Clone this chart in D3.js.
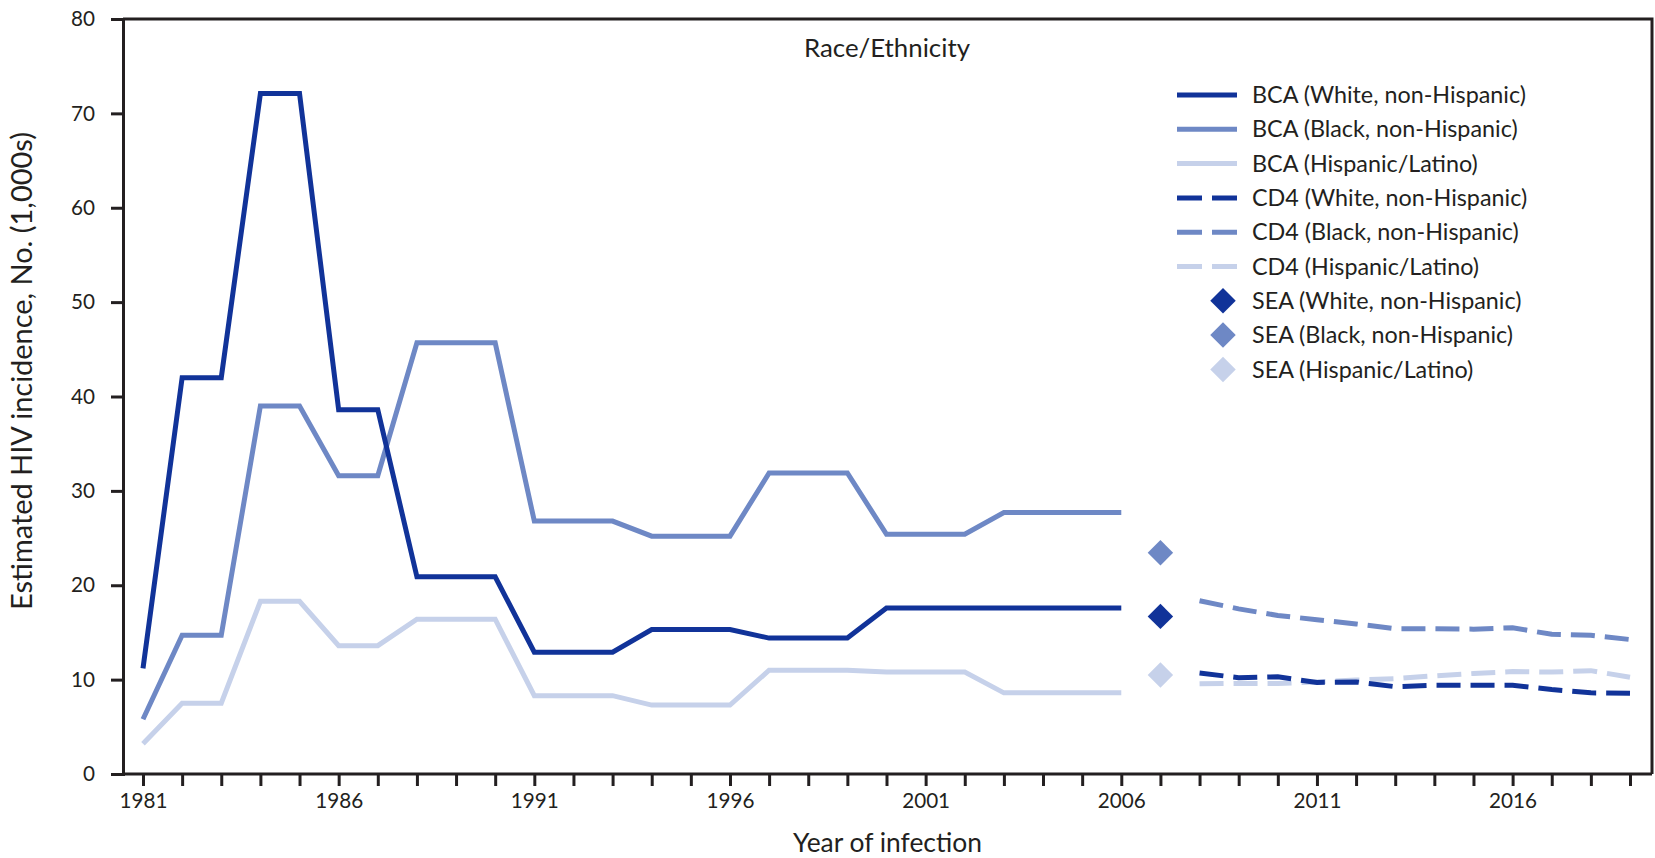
<!DOCTYPE html>
<html>
<head>
<meta charset="utf-8">
<script src="https://cdn.jsdelivr.net/npm/d3@7"></script>
<style>
  html, body { margin: 0; padding: 0; background: #fff; }
  svg text { font-family: Lato, "Open Sans", sans-serif; fill: #231f20; }
</style>
</head>
<body>
<div id="chart"></div>
<script>
// years
const bcaYears = d3.range(1981, 2007);
const cd4Years = d3.range(2008, 2020);
const seaYear = 2007;

// BCA estimates (1,000s)
const bcaWhite = [11.2, 42.0, 42.0, 72.1, 72.1, 38.6, 38.6, 20.9, 20.9, 20.9, 12.9, 12.9, 12.9,
  15.3, 15.3, 15.3, 14.4, 14.4, 14.4, 17.6, 17.6, 17.6, 17.6, 17.6, 17.6, 17.6];
const bcaBlack = [5.8, 14.7, 14.7, 39.0, 39.0, 31.6, 31.6, 45.7, 45.7, 45.7, 26.8, 26.8, 26.8,
  25.2, 25.2, 25.2, 31.9, 31.9, 31.9, 25.4, 25.4, 25.4, 27.7, 27.7, 27.7, 27.7];
const bcaHisp = [3.2, 7.5, 7.5, 18.3, 18.3, 13.6, 13.6, 16.4, 16.4, 16.4, 8.3, 8.3, 8.3,
  7.3, 7.3, 7.3, 11.0, 11.0, 11.0, 10.8, 10.8, 10.8, 8.6, 8.6, 8.6, 8.6];

// CD4 estimates (1,000s)
const cd4White = [10.7, 10.2, 10.3, 9.7, 9.75, 9.25, 9.4, 9.4, 9.4, 8.95, 8.6, 8.55];
const cd4Black = [18.35, 17.5, 16.8, 16.35, 15.9, 15.4, 15.4, 15.35, 15.5, 14.8, 14.7, 14.25];
const cd4Hisp = [9.55, 9.6, 9.6, 9.75, 9.95, 10.1, 10.4, 10.65, 10.85, 10.8, 10.95, 10.25];

// SEA estimates (1,000s), 2007
const seaValues = [16.7, 23.45, 10.5];

const groups = ["White, non-Hispanic", "Black, non-Hispanic", "Hispanic/Latino"];
const colors = ["#113399", "#6e88c5", "#c6d1ea"];
const yTicks = [0, 10, 20, 30, 40, 50, 60, 70, 80];
const xLabelYears = [1981, 1986, 1991, 1996, 2001, 2006, 2011, 2016];

const width = 1655, height = 858;
const frame = { left: 123, right: 1652, top: 19, bottom: 774 };

// scale a text's font so it spans the width seen in the reference
function fitWidth(sel, target) {
  const w = sel.node().getComputedTextLength();
  const fs = +sel.attr("font-size");
  const size = fs * target / w;
  sel.attr("font-size", size);
  return size;
}

const svg = d3.select("#chart").append("svg")
  .attr("width", width)
  .attr("height", height);

const x = d3.scaleLinear().domain([1981, 2019]).range([143, 1630]);
const y = d3.scaleLinear().domain([0, 80]).range([frame.bottom, frame.top]);

// frame (top and right)
svg.append("path")
  .attr("d", `M${frame.left},${frame.top}H${frame.right}V${frame.bottom}`)
  .attr("fill", "none")
  .attr("stroke", "#231f20")
  .attr("stroke-width", 3);

// x axis
const xAxis = svg.append("g")
  .attr("transform", `translate(0,${frame.bottom})`)
  .call(d3.axisBottom(x).tickValues(d3.range(1981, 2020)).tickSize(12).tickPadding(7)
    .tickFormat(d => xLabelYears.includes(d) ? d : ""));
xAxis.select(".domain").remove();
xAxis.append("line")
  .attr("x1", frame.left).attr("x2", frame.right)
  .attr("stroke", "#231f20").attr("stroke-width", 3);
xAxis.selectAll(".tick line").attr("stroke", "#231f20").attr("stroke-width", 3);
const xText = xAxis.selectAll(".tick text").attr("font-size", 21).attr("fill", "#231f20");
const tickSize = fitWidth(xText.filter(d => d === 1981), 48);
xText.attr("font-size", tickSize);

// y axis
const yAxis = svg.append("g")
  .attr("transform", `translate(${frame.left},0)`)
  .call(d3.axisLeft(y).tickValues(yTicks).tickSize(12).tickPadding(16));
yAxis.select(".domain").attr("stroke", "#231f20").attr("stroke-width", 3);
yAxis.selectAll(".tick line").attr("stroke", "#231f20").attr("stroke-width", 3);
yAxis.selectAll("text").attr("font-size", tickSize).attr("fill", "#231f20");

// titles
const xTitle = svg.append("text")
  .attr("x", (frame.left + frame.right) / 2)
  .attr("y", 852)
  .attr("text-anchor", "middle")
  .attr("font-size", 23)
  .text("Year of infection");
fitWidth(xTitle, 189);

const yTitle = svg.append("text")
  .attr("transform", "translate(32,371) rotate(-90)")
  .attr("text-anchor", "middle")
  .attr("font-size", 22)
  .text("Estimated HIV incidence, No. (1,000s)");
fitWidth(yTitle, 478);

const groupTitle = svg.append("text")
  .attr("x", 887)
  .attr("y", 57)
  .attr("text-anchor", "middle")
  .attr("font-size", 22)
  .text("Race/Ethnicity");
fitWidth(groupTitle, 166);

// lines
const line = d3.line().x(d => x(d[0])).y(d => y(d[1]));
const bca = [bcaWhite, bcaBlack, bcaHisp];
const cd4 = [cd4White, cd4Black, cd4Hisp];

// draw lighter first so darker sits on top
[2, 1, 0].forEach(i => {
  svg.append("path")
    .datum(bcaYears.map((yr, j) => [yr, bca[i][j]]))
    .attr("d", line)
    .attr("fill", "none")
    .attr("stroke", colors[i])
    .attr("stroke-width", 5);
});
[2, 1, 0].forEach(i => {
  svg.append("path")
    .datum(cd4Years.map((yr, j) => [yr, cd4[i][j]]))
    .attr("d", line)
    .attr("fill", "none")
    .attr("stroke", colors[i])
    .attr("stroke-width", 5)
    .attr("stroke-dasharray", "24,10");
});

const diamond = d3.symbol().type(d3.symbolSquare).size(18 * 18);
seaValues.forEach((v, i) => {
  svg.append("path")
    .attr("d", diamond)
    .attr("transform", `translate(${x(seaYear)},${y(v)}) rotate(45)`)
    .attr("fill", colors[i]);
});

// legend
const legendItems = [];
["BCA", "CD4", "SEA"].forEach(m => groups.forEach((g, i) => legendItems.push({ m, g, i })));

const legend = svg.append("g");
let legendSize = 21.5;
legendItems.forEach((d, k) => {
  const ly = 95 + k * 34.3;
  if (d.m === "SEA") {
    legend.append("path")
      .attr("d", diamond)
      .attr("transform", `translate(1223,${ly}) rotate(45)`)
      .attr("fill", colors[d.i]);
  } else {
    legend.append("line")
      .attr("x1", 1177).attr("x2", 1237)
      .attr("y1", ly).attr("y2", ly)
      .attr("stroke", colors[d.i])
      .attr("stroke-width", 5)
      .attr("stroke-dasharray", d.m === "CD4" ? "25,10" : null);
  }
  const t = legend.append("text")
    .attr("x", 1252)
    .attr("y", ly)
    .attr("dy", "0.35em")
    .attr("font-size", legendSize)
    .text(`${d.m} (${d.g})`);
  if (k === 0) legendSize = fitWidth(t, 274);
});
</script>
</body>
</html>
